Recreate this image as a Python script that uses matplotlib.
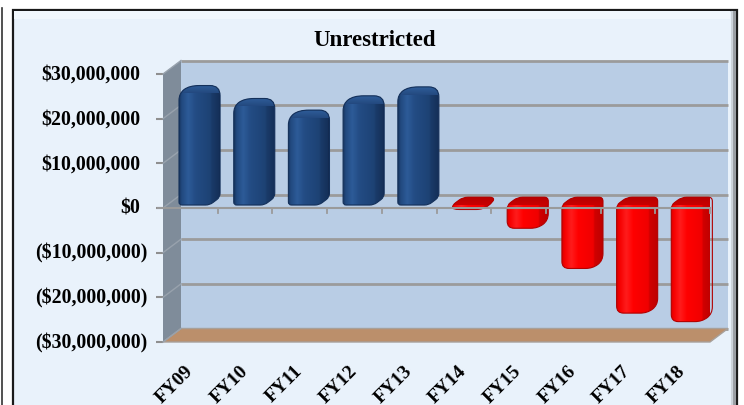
import numpy as np
import matplotlib
matplotlib.use('Agg')
import matplotlib.pyplot as plt
from matplotlib.path import Path
from matplotlib.patches import PathPatch, Polygon, Rectangle
from matplotlib.lines import Line2D
from matplotlib.transforms import IdentityTransform, offset_copy
from matplotlib.colors import to_rgb

categories = ['FY09', 'FY10', 'FY11', 'FY12', 'FY13',
              'FY14', 'FY15', 'FY16', 'FY17', 'FY18']
values = [25.0e6, 22.1e6, 19.5e6, 22.7e6, 24.7e6,
          -1.0e6, -5.2e6, -14.2e6, -24.2e6, -26.1e6]
y_ticks = [30e6, 20e6, 10e6, 0, -10e6, -20e6, -30e6]
title = 'Unrestricted'

SERIF = ['Liberation Serif', 'DejaVu Serif']


def money(v):
    s = '${:,.0f}'.format(abs(v))
    return '(' + s + ')' if v < 0 else s


def rounded(points, radii):
    # polygon with quadratic-bezier corners, radius per vertex (pixels)
    pts = [np.asarray(p, float) for p in points]
    n = len(pts)
    verts, codes = [], []
    for k in range(n):
        p, a, b = pts[k], pts[k - 1], pts[(k + 1) % n]
        da, db = a - p, b - p
        la, lb = np.hypot(*da), np.hypot(*db)
        r = radii[k]
        p1 = p + da / la * min(r, la / 2)
        p2 = p + db / lb * min(r, lb / 2)
        verts += [p1, p, p2]
        codes += [Path.MOVETO if k == 0 else Path.LINETO, Path.CURVE3, Path.CURVE3]
    verts.append(verts[0])
    codes.append(Path.CLOSEPOLY)
    return Path(verts, codes)


def hgrad(stops, width, ncol=120):
    xs = np.linspace(0, width, ncol)
    pos = [s[0] for s in stops]
    cols = np.array([to_rgb(s[1]) for s in stops])
    row = np.stack([np.interp(xs, pos, cols[:, c]) for c in range(3)], axis=-1)
    return row[np.newaxis, :, :]


def vgrad(c_bottom, c_top, nrow=20):
    t = np.linspace(0, 1, nrow)[:, None]
    return ((1 - t) * np.array(to_rgb(c_bottom)) + t * np.array(to_rgb(c_top)))[:, None, :]


W, H = 744, 406
fig = plt.figure(figsize=(W / 100, H / 100), dpi=100)
fig.patch.set_facecolor('white')

# outer chart frame
fig.add_artist(Rectangle((13 / W, -0.05), 724 / W, (H - 11) / H + 0.05,
                         transform=fig.transFigure, fc='#e9f2fb', ec='#1a1a1a',
                         lw=1.6, zorder=-2))
fig.add_artist(Rectangle((14 / W, (H - 20) / H), 716 / W, 8 / H,
                         transform=fig.transFigure, fc='#f2f8fd', ec='none', zorder=-1.5))
fig.add_artist(Line2D([733.5 / W] * 2, [0, (H - 13) / H], transform=fig.transFigure,
                      color='#9a9ea3', lw=2.2, zorder=-1))
fig.add_artist(Line2D([731.5 / W] * 2, [0, (H - 13) / H], transform=fig.transFigure,
                      color='#ccd3da', lw=1.5, zorder=-1))
fig.add_artist(Line2D([2 / W] * 2, [0, (H - 9) / H], transform=fig.transFigure,
                      color='#333333', lw=1.2, zorder=-1))

fig.text(375 / W, 1 - 40 / H, title, ha='center', va='center',
         fontsize=16.5, fontweight='bold', family=SERIF)

ax = fig.add_axes([163 / W, (H - 343) / H, 547 / W, 268 / H])
n = len(categories)
ymin, ymax = y_ticks[-1], y_ticks[0]
ax.set_xlim(0, n)
ax.set_ylim(ymin, ymax)
ax.set_autoscale_on(False)
ax.patch.set_visible(False)
for s in ax.spines.values():
    s.set_visible(False)
ax.set_xticks([])
ax.set_yticks(y_ticks)
ax.tick_params(axis='y', length=5, width=1.5, color='#8f8f8f', labelleft=False)

px = IdentityTransform()
depth = np.array([18.0, 13.5])


def pt(x, y):
    return ax.transData.transform((x, y))


def seg(p, q, **kw):
    ax.add_line(Line2D([p[0], q[0]], [p[1], q[1]], transform=px, clip_on=False, **kw))


def poly(verts, **kw):
    return ax.add_patch(Polygon(verts, transform=px, clip_on=False, **kw))


# back wall with gridlines
poly([pt(0, ymin) + depth, pt(n, ymin) + depth, pt(n, ymax) + depth, pt(0, ymax) + depth],
     fc='#b9cde5', ec='none', zorder=1)
for v in y_ticks:
    seg(pt(0, v) + depth, pt(n, v) + depth, color='#9b9b9b', lw=2, zorder=2,
        solid_capstyle='butt')

# side wall
poly([pt(0, ymin), pt(0, ymax), pt(0, ymax) + depth, pt(0, ymin) + depth],
     fc='#7f8c9a', ec='none', zorder=3)
for v in y_ticks:
    seg(pt(0, v), pt(0, v) + depth, color='#98a2ad', lw=1, zorder=3.1)

# floor
poly([pt(0, ymin), pt(n, ymin), pt(n, ymin) + depth, pt(0, ymin) + depth],
     fc='#bb8f6b', ec='#a7a09a', lw=1, zorder=3)

# value labels on the front edge
for v in y_ticks:
    dx = -16 if v < 0 else -23
    ax.text(0, v, money(v), transform=offset_copy(ax.transData, fig, x=dx, y=0, units='dots'),
            ha='right', va='center', fontsize=14.3, fontweight='bold', family=SERIF)

# columns
bar_w = 0.56
f0, f1 = 0.22, 0.80
blue = dict(stops=['#17345e', '#21497f', '#2d5b98', '#234c84', '#1d4274',
                   '#1a3b69', '#15305a', '#0f2444'],
            top=('#23497f', '#2f5d99'), edge='#14305a')
red = dict(stops=['#d80000', '#f50000', '#ff1c1c', '#ff0000', '#f00000',
                  '#d00000', '#c00000', '#a30000'],
           top=('#c80000', '#b80000'), edge='#b20000')

for i, v in enumerate(values):
    c = i + 0.5
    lo, hi = min(v, 0), max(v, 0)
    off0 = depth * f0
    bd = depth * (f1 - f0)
    A = pt(c - bar_w / 2, lo) + off0
    B = pt(c + bar_w / 2, lo) + off0
    TR = pt(c + bar_w / 2, hi) + off0
    TL = pt(c - bar_w / 2, hi) + off0
    outline = [A, B, B + bd, TR + bd, TL + bd, TL]
    if v >= 0:
        sty = blue
        radii = [3, 4, 4, 10, 10, 7]
    else:
        sty = red
        radii = [7, 7, 7, 4, 5, 4]
    patch = PathPatch(rounded(outline, radii), transform=px, fc='none',
                      ec=sty['edge'], lw=0.8, zorder=5, clip_on=False)
    ax.add_patch(patch)

    # body: dark edges, highlight left of centre, darker right side
    fw = B[0] - A[0]
    tw = fw + bd[0]
    pos = [0, 2.5, 9, 16, fw, fw + 1.5, tw - 2, tw]
    grad = hgrad(list(zip(pos, sty['stops'])), tw)
    im = ax.imshow(grad, extent=(A[0], A[0] + tw, A[1] - 1, TL[1] + bd[1] + 1),
                   transform=px, aspect='auto', interpolation='bilinear',
                   origin='lower', zorder=4.8)
    im.set_clip_box(None)
    im.set_clip_path(patch)

    # top face, shaded from its front edge to the back
    tim = ax.imshow(vgrad(*sty['top']), extent=(TL[0], TR[0] + bd[0], TL[1], TL[1] + bd[1]),
                    transform=px, aspect='auto', interpolation='bilinear',
                    origin='lower', zorder=4.9)
    tim.set_clip_box(None)
    tim.set_clip_path(patch)

# front category axis at zero
seg(pt(0, 0) + np.array([-5, 0]), pt(n, 0), color='#9a9a9a', lw=1.5, zorder=10)
for k in range(1, n + 1):
    seg(pt(k, 0), pt(k, 0) - np.array([0, 5]), color='#9a9a9a', lw=1.3, zorder=10)

# category labels
for i, name in enumerate(categories):
    ax.text(i + 0.5, ymin, name,
            transform=offset_copy(ax.transData, fig, x=-6, y=-20, units='dots'),
            rotation=45, rotation_mode='anchor', ha='right', va='top',
            fontsize=14, fontweight='bold', family=SERIF)

fig.savefig('out.png', dpi=100)
